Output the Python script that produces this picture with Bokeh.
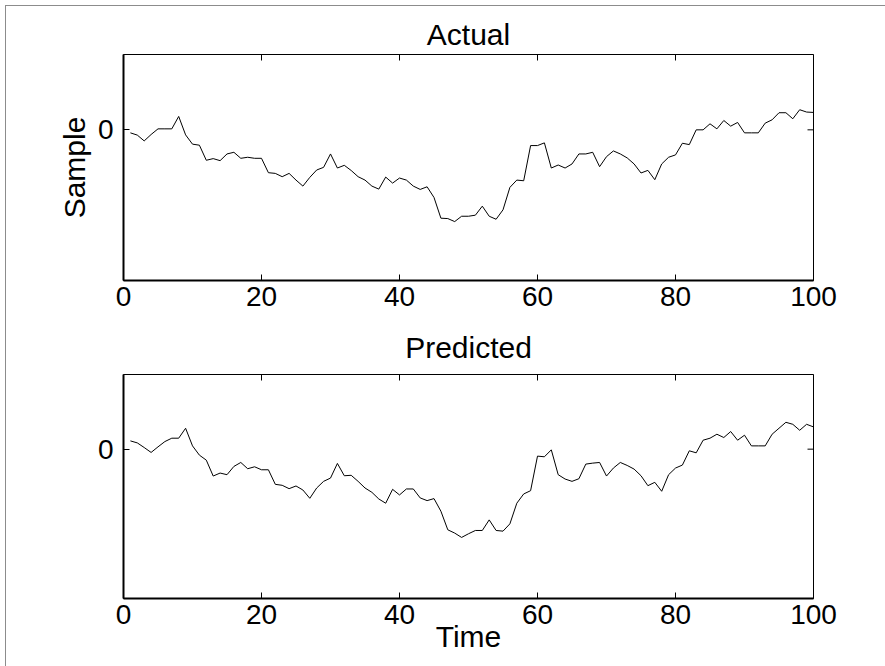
import math
from bokeh.plotting import figure
from bokeh.layouts import column
from bokeh.models import Range1d, FixedTicker, LinearAxis
from bokeh.embed import file_html
from bokeh.resources import INLINE

time = list(range(1, 101))

actual = [
    -0.04, -0.07, -0.147, -0.062, 0.013, 0.013, 0.013, 0.178, -0.067, -0.19,
    -0.204, -0.404, -0.382, -0.409, -0.32, -0.298, -0.378, -0.364, -0.378, -0.378,
    -0.569, -0.578, -0.622, -0.578, -0.667, -0.747, -0.631, -0.533, -0.498, -0.32,
    -0.507, -0.471, -0.54, -0.622, -0.667, -0.747, -0.787, -0.627, -0.707, -0.64,
    -0.667, -0.747, -0.791, -0.756, -0.898, -1.173, -1.178, -1.218, -1.147, -1.147,
    -1.133, -1.013, -1.147, -1.187, -1.062, -0.764, -0.667, -0.676, -0.209, -0.209,
    -0.173, -0.507, -0.467, -0.507, -0.453, -0.32, -0.32, -0.298, -0.489, -0.356,
    -0.28, -0.32, -0.373, -0.453, -0.573, -0.538, -0.662, -0.453, -0.364, -0.333,
    -0.178, -0.196, 0.0, 0.0, 0.08, 0.013, 0.124, 0.049, 0.098, -0.04,
    -0.04, -0.04, 0.089, 0.133, 0.227, 0.227, 0.147, 0.267, 0.236, 0.231,
]

predicted = [
    0.111, 0.084, 0.022, -0.044, 0.031, 0.102, 0.147, 0.147, 0.28, 0.044,
    -0.080, -0.147, -0.36, -0.32, -0.342, -0.231, -0.178, -0.262, -0.236, -0.276,
    -0.276, -0.471, -0.484, -0.529, -0.493, -0.547, -0.658, -0.52, -0.431, -0.387,
    -0.191, -0.356, -0.35, -0.431, -0.52, -0.578, -0.667, -0.724, -0.538, -0.613,
    -0.533, -0.533, -0.653, -0.689, -0.662, -0.831, -1.08, -1.124, -1.182, -1.133,
    -1.089, -1.089, -0.947, -1.089, -1.098, -1.0, -0.724, -0.6, -0.556, -0.093,
    -0.102, -0.009, -0.342, -0.4, -0.431, -0.396, -0.2, -0.187, -0.178, -0.36,
    -0.253, -0.178, -0.218, -0.267, -0.356, -0.489, -0.444, -0.564, -0.342, -0.253,
    -0.213, -0.022, -0.049, 0.12, 0.147, 0.2, 0.156, 0.236, 0.12, 0.187,
    0.044, 0.044, 0.044, 0.2, 0.28, 0.36, 0.333, 0.253, 0.333, 0.298,
]

x_ticks = [0, 20, 40, 60, 80, 100]
y_ticks = [0]
titles = ["Actual", "Predicted"]
x_label = "Time"
y_label = "Sample"
X_MIN, X_MAX = 0, 100
Y_MIN, Y_MAX = -2, 1

FONT = "Liberation Sans"
TICK_FS = "28px"
LABEL_FS = "30px"


def style_axis(ax, standoff):
    ax.axis_line_width = 2
    ax.axis_line_color = "black"
    ax.major_tick_in = 6
    ax.major_tick_out = 0
    ax.major_tick_line_color = "black"
    ax.minor_tick_line_color = None
    ax.major_label_text_font = FONT
    ax.major_label_text_color = "black"
    ax.major_label_text_font_size = TICK_FS
    ax.major_label_standoff = standoff
    ax.axis_label_text_font = FONT
    ax.axis_label_text_font_size = LABEL_FS
    ax.axis_label_text_font_style = "normal"
    ax.axis_label_text_color = "black"


def make(title, ys, height, top, bottom, title_standoff, xlab=None, ylab=None):
    p = figure(width=879, height=height, output_backend="svg", toolbar_location=None,
               x_range=Range1d(X_MIN, X_MAX), y_range=Range1d(Y_MIN, Y_MAX),
               min_border_left=117, min_border_right=72,
               min_border_top=top, min_border_bottom=bottom,
               x_axis_location=None, y_axis_location=None)
    p.title.text = title
    p.title.align = "center"
    p.title.text_font = FONT
    p.title.text_font_size = LABEL_FS
    p.title.text_font_style = "normal"
    p.title.text_color = "black"
    p.title.standoff = title_standoff
    p.outline_line_color = "black"
    p.outline_line_width = 1
    p.xgrid.visible = False
    p.ygrid.visible = False
    p.background_fill_color = "white"
    p.border_fill_color = "white"

    xb = LinearAxis(ticker=FixedTicker(ticks=x_ticks))
    style_axis(xb, 6)
    if xlab:
        xb.axis_label = xlab
        xb.axis_label_standoff = -7
    p.add_layout(xb, "below")

    yl = LinearAxis(ticker=FixedTicker(ticks=y_ticks))
    style_axis(yl, 10)
    if ylab:
        yl.axis_label = ylab
        yl.axis_label_standoff = 4
    p.add_layout(yl, "left")

    # inward ticks on the top and right edges of the box (half of each dash is clipped)
    p.scatter(x=x_ticks, y=[Y_MAX] * len(x_ticks), marker="dash", size=12,
              angle=math.pi / 2, line_color="black", line_width=1)
    p.scatter(x=[X_MAX] * len(y_ticks), y=y_ticks, marker="dash", size=12,
              line_color="black", line_width=1)

    p.line(time, ys, line_color="black", line_width=1)
    return p


p1 = make(titles[0], actual, 312, 48, 38, 8, ylab=y_label)
p2 = make(titles[1], predicted, 348, 56, 68, 21, xlab=x_label)

layout = column(p1, p2, spacing=0)
layout.margin = (5, 0, 0, 5)
layout.styles = {"border-top": "1px solid #8c8c8c", "border-left": "1px solid #8c8c8c"}

open("out.html", "w").write(file_html(layout, INLINE))
